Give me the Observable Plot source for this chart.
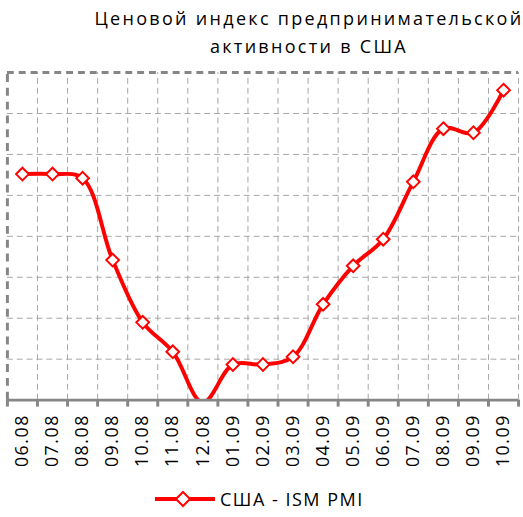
<!DOCTYPE html>
<html><head><meta charset="utf-8">
<script src="https://cdn.jsdelivr.net/npm/d3@7"></script>
<script src="https://cdn.jsdelivr.net/npm/@observablehq/plot@0.6"></script>
<style>
html,body{margin:0;padding:0;background:#fff;overflow:hidden;width:523px;height:517px}
#wrap{position:relative;width:523px;height:517px;overflow:hidden;font-family:"Open Sans",sans-serif;color:#000}
#chart{position:absolute;left:0;top:0}
#title{position:absolute;left:0;top:4px;width:618px;text-align:center;font-size:18px;line-height:28px;letter-spacing:2.3px}
#legend{position:absolute;left:155px;top:487px;display:flex;align-items:center;font-size:18px;letter-spacing:1.5px}
#legend svg{margin-right:5px}
</style></head>
<body>
<div id="wrap">
  <div id="chart"></div>
  <div id="title"></div>
  <div id="legend"></div>
</div>
<script>
const titleLines = ["Ценовой индекс предпринимательской", "активности в США"];
const seriesName = "США - ISM PMI";
const months = ["06.08","07.08","08.08","09.08","10.08","11.08","12.08","01.09","02.09","03.09","04.09","05.09","06.09","07.09","08.09","09.09","10.09"];
const values = [55.2, 55.2, 54.2, 34.2, 19.0, 11.8, -0.6, 8.7, 8.7, 10.6, 23.4, 32.8, 39.3, 53.3, 66.3, 65.3, 75.7];
const gridValues = [10, 20, 30, 40, 50, 60, 70];
const yMax = 80;

const data = months.map((m, i) => ({month: m, i, value: values[i]}));
const pos = d => d.i + 0.5;
const red = "#ff0000", frameGray = "#868686", gridGray = "#a6a6a6";

const chart = Plot.plot({
  width: 530, height: 517,
  marginLeft: 7, marginRight: 5, marginTop: 73, marginBottom: 112,
  x: {domain: [0, months.length], axis: null},
  y: {domain: [0, yMax], axis: null},
  style: {fontFamily: "'Open Sans', sans-serif", background: "transparent", overflow: "visible"},
  marks: [
    Plot.ruleY(gridValues, {stroke: gridGray, strokeWidth: 1, strokeDasharray: "6,4"}),
    Plot.ruleX(d3.range(1, months.length + 1), {y1: 0, y2: yMax, stroke: gridGray, strokeWidth: 1, strokeDasharray: "6,4"}),
    Plot.ruleY([yMax], {stroke: frameGray, strokeWidth: 3, strokeDasharray: "7,5"}),
    Plot.ruleX([0], {y1: 0, y2: yMax, stroke: frameGray, strokeWidth: 3, strokeDasharray: "8,6"}),
    Plot.line(data, {x: pos, y: "value", stroke: red, strokeWidth: 4, curve: "catmull-rom", clip: true}),
    // points outside the value axis range are not marked
    Plot.dot(data, {filter: d => d.value >= 0, x: pos, y: "value", symbol: "diamond2", r: 5.8, fill: "white", stroke: red, strokeWidth: 2}),
    Plot.ruleY([0], {stroke: frameGray, strokeWidth: 3}),
    Plot.ruleX(d3.range(0, months.length + 1), {y1: 0, y2: -1.7, stroke: frameGray, strokeWidth: 3}),
    Plot.text(data, {x: pos, y: 0, text: "month", rotate: -90, textAnchor: "end", dy: 14, fontSize: 18, fill: "black"})
  ]
});
chart.querySelectorAll("text").forEach(t => t.style.letterSpacing = "1.6px");
document.getElementById("chart").appendChild(chart);

document.getElementById("title").innerHTML = titleLines.join("<br>");
document.getElementById("legend").innerHTML =
  `<svg width="60" height="18"><line x1="0" y1="9" x2="60" y2="9" stroke="${red}" stroke-width="4"/>` +
  `<path d="M28 2 L35 9 L28 16 L21 9 Z" fill="white" stroke="${red}" stroke-width="2"/></svg>` +
  `<span>${seriesName}</span>`;
</script>
</body></html>
